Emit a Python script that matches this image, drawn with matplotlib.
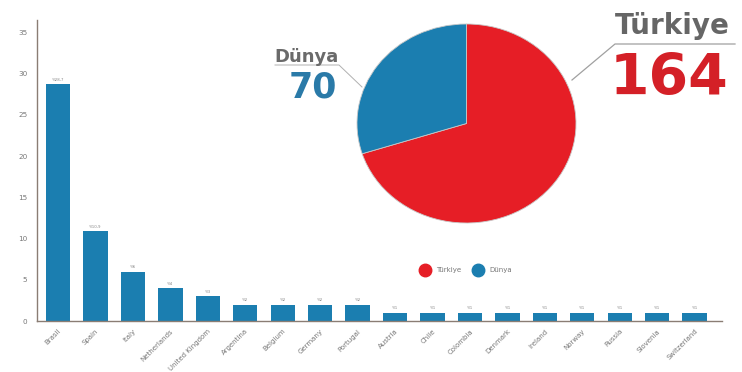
import matplotlib
matplotlib.use("Agg")
import matplotlib.pyplot as plt
from matplotlib.lines import Line2D

# ---- data ----
countries = ["Brasil", "Spain", "Italy", "Netherlands", "United Kingdom", "Argentina",
             "Belgium", "Germany", "Portugal", "Austria", "Chile", "Colombia", "Denmark",
             "Ireland", "Norway", "Russia", "Slovenia", "Switzerland"]
values = [28.7, 10.9, 6.0, 4.0, 3.0, 2.0, 2.0, 2.0, 2.0, 1.0, 1.0, 1.0, 1.0, 1.0, 1.0, 1.0, 1.0, 1.0]
yticks = [0, 5, 10, 15, 20, 25, 30, 35]
pie_labels = ["Türkiye", "Dünya"]
pie_values = [164, 70]

BLUE = "#1b7eb0"
RED = "#e61e26"
W, H = 742, 372

fig = plt.figure(figsize=(W / 100, H / 100), dpi=100)
plt.rcParams['font.family'] = ['DejaVu Sans']

def fx(px):
    return px / W

def fy(py):
    return 1 - py / H

# ---- bar chart ----
left, right, top, bottom = 37, 722, 20, 321
ax = fig.add_axes([fx(left), fy(bottom), fx(right - left), (bottom - top) / H])
x = list(range(len(countries)))
ax.bar(x, values, width=0.65, color=BLUE, zorder=2)
ax.set_xlim(-0.56, len(countries) - 1 + 0.73)
ax.set_ylim(0, 36.5)
ax.set_yticks(yticks)
ax.set_yticklabels([str(t) for t in yticks], fontsize=5.2, color="#777777")
ax.set_xticks(x)
ax.set_xticklabels(countries, rotation=45, ha="right", rotation_mode="anchor",
                   fontsize=5, color="#777777")
ax.tick_params(axis="y", length=0, pad=7)
ax.tick_params(axis="x", length=0, pad=5)
for s in ["top", "right"]:
    ax.spines[s].set_visible(False)
for s in ["left", "bottom"]:
    ax.spines[s].set_color("#8a7d74")
    ax.spines[s].set_linewidth(1.0)
for xi, v in zip(x, values):
    ax.text(xi, v + 0.3, "%" + f"{v:g}".replace(".", ","), ha="center", va="bottom",
            fontsize=2.8, color="#888888")
ax.patch.set_alpha(0)

# ---- pie ----
pl, pr, pt, pb = 357, 576, 24, 223
pax = fig.add_axes([fx(pl), fy(pb), fx(pr - pl), (pb - pt) / H])
pax.pie(pie_values, colors=[RED, BLUE], startangle=90, counterclock=False,
        wedgeprops=dict(edgecolor="#c8c8c8", linewidth=0.6))
pax.set_aspect("auto")
pax.set_xlim(-1.0, 1.0)
pax.set_ylim(-1.0, 1.0)

# ---- callouts ----
lax = fig.add_axes([0, 0, 1, 1], zorder=-1)
lax.set_xlim(0, W)
lax.set_ylim(H, 0)
lax.axis("off")
lax.plot([572, 615, 735], [80, 44, 44], color="#a0a0a0", lw=0.9)
lax.plot([275, 339, 362], [65, 65, 87], color="#b0b0b0", lw=0.7)

fig.text(fx(672), fy(34), pie_labels[0], ha="center", va="baseline", fontsize=20,
         fontweight="bold", color="#666666")
fig.text(fx(669), fy(95), str(pie_values[0]), ha="center", va="baseline", fontsize=41,
         fontweight="bold", color="#d42027")
fig.text(fx(307), fy(62), pie_labels[1], ha="center", va="baseline", fontsize=13,
         fontweight="bold", color="#6a6a6a")
fig.text(fx(313), fy(97), str(pie_values[1]), ha="center", va="baseline", fontsize=25,
         fontweight="bold", color="#2a7aa8")

# ---- legend ----
handles = [Line2D([], [], marker="o", ls="", color=RED, markersize=9),
           Line2D([], [], marker="o", ls="", color=BLUE, markersize=9)]
fig.legend(handles, pie_labels, loc="center", bbox_to_anchor=(fx(465), fy(270)),
           ncol=2, frameon=False, fontsize=5, labelcolor="#777777",
           handletextpad=0.6, columnspacing=1.5)

fig.savefig("out.png", dpi=100, facecolor="white")
